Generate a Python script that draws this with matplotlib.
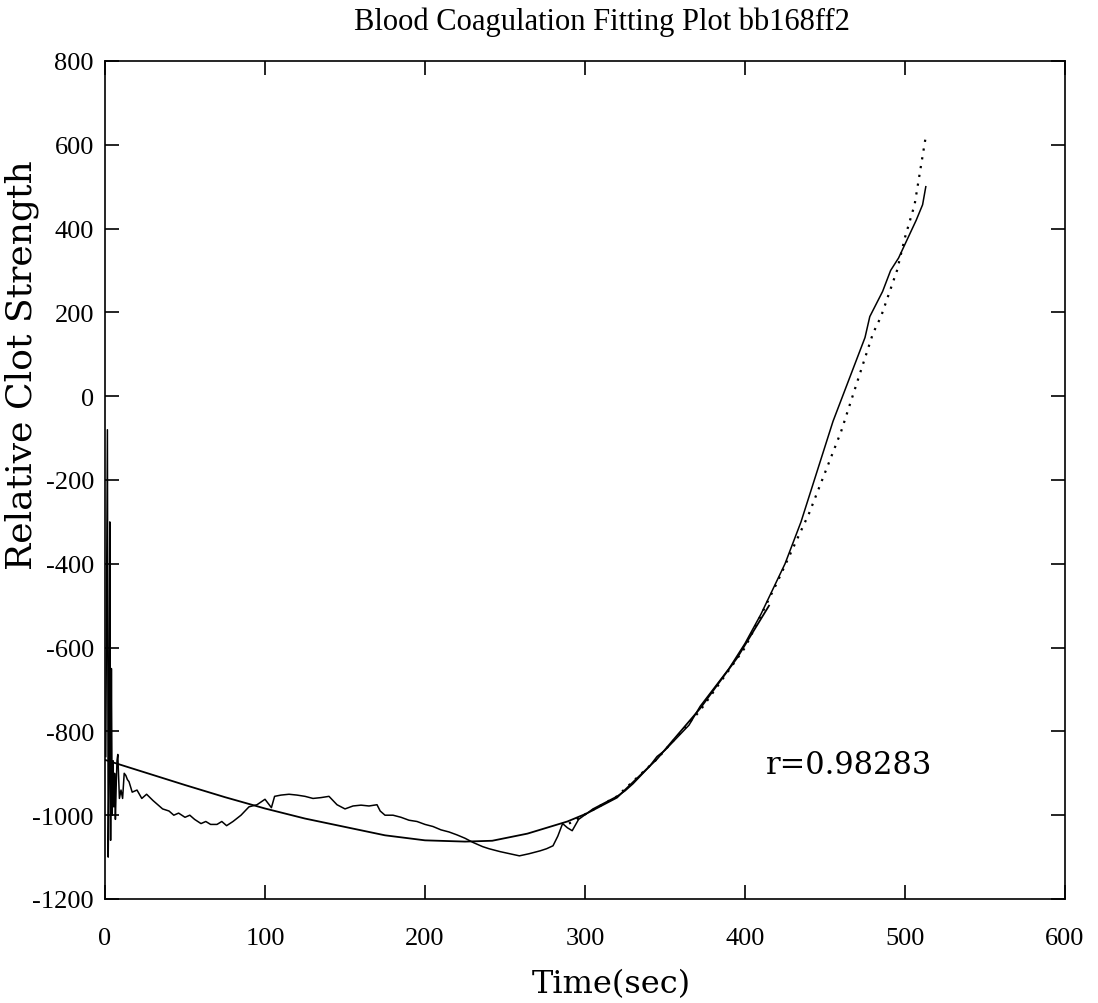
import numpy as np
import matplotlib.pyplot as plt

plt.rcParams['axes.unicode_minus'] = False

t_data = [0.5, 1.5, 2, 2.5, 3, 3.5, 4, 4.5, 5, 5.5, 6, 6.5, 7, 7.5, 8, 9, 10, 11, 12, 13, 14,
          15, 17, 20, 23, 26, 30, 33, 36, 40, 43, 46, 50, 53, 56, 60, 63, 66,
          70, 73, 76, 80, 85, 90, 95, 100, 104, 106, 110, 115, 120, 125,
          130, 135, 140, 145, 150, 155, 160, 165, 170, 172, 175, 180, 185, 190, 195,
          200, 205, 210, 215, 220, 225, 230, 236, 240, 247, 253, 259, 265, 272, 276, 280,
          283, 286, 289, 292, 296, 301, 305, 310, 315, 320, 325, 330, 335, 340, 345,
          350, 355, 360, 365, 372, 375, 380, 385, 390, 395, 400, 405, 410, 415, 420,
          425, 430, 435, 440, 445, 450, 455, 461, 465, 470, 475, 478, 482, 486, 491,
          496, 502, 507, 511, 513]
y_data = [-860, -80, -1100, -900, -300, -1060, -650, -1000, -870, -980, -900, -1010, -930, -870,
          -855, -960, -940, -960, -900, -905, -915,
          -920, -945, -940, -960, -950, -965, -975, -985, -990, -1000, -995, -1005, -1000,
          -1010, -1020, -1015, -1022,
          -1022, -1015, -1025, -1015, -1000, -980, -975, -962, -982, -955, -952, -950, -952,
          -955,
          -960, -958, -955, -975, -985, -978, -976, -978, -975, -990, -1000, -1000, -1005,
          -1012, -1015,
          -1022, -1027, -1035, -1040, -1047, -1055, -1065, -1075, -1080, -1087, -1092, -1097,
          -1092, -1085, -1080, -1073,
          -1050, -1020, -1030, -1037, -1010, -996, -985, -975, -965, -955, -942, -925, -905,
          -885, -860,
          -845, -825, -805, -785, -740, -725, -700, -675, -650, -620, -590, -555, -520, -480,
          -440, -400, -350, -300, -240, -180, -120, -60, 0, 40, 90, 140, 190, 220, 250, 300,
          330, 379, 420, 457, 500]

# smooth fit over the whole window (solid)
t_fit = [0, 25, 50, 75, 100, 125, 150, 175, 200, 225, 242, 264, 289, 301, 320, 345,
         372, 395, 415]
y_fit = [-868, -898, -928, -957, -984, -1008, -1028, -1048, -1060, -1063, -1061, -1044,
         -1015, -996, -958, -866, -745, -625, -500]

# second fit (dotted)
t_fit2 = [290, 300, 320, 345, 372, 400, 420, 440, 460, 480, 485, 495, 500, 506, 513]
y_fit2 = [-1020, -998, -955, -866, -750, -600, -445, -280, -85, 150, 190, 300, 379, 457, 620]

r_text = 'r=0.98283'

fig = plt.figure(figsize=(10.98, 10.04), dpi=100)
ax = fig.add_axes([105 / 1098, 1 - 900 / 1004, 960 / 1098, 838 / 1004])

ax.plot(t_data, y_data, color='black', linewidth=1.1)
ax.plot(t_fit, y_fit, color='black', linewidth=1.3)
ax.plot(t_fit2, y_fit2, color='black', linewidth=1.6, linestyle=(0, (1, 3)))

ax.set_xlim(0, 600)
ax.set_ylim(-1200, 800)
ax.set_xticks(np.arange(0, 601, 100))
ax.set_yticks(np.arange(-1200, 801, 200))
ax.tick_params(direction='in', length=10, width=1.2, top=True, right=True,
               labelsize=19)
ax.tick_params(axis='x', pad=20)
ax.tick_params(axis='y', pad=8)
for lab in ax.get_xticklabels() + ax.get_yticklabels():
    lab.set_fontfamily('Liberation Serif')
for s in ax.spines.values():
    s.set_linewidth(1.2)

fig.text(0.548, 1 - 22 / 1004, 'Blood Coagulation Fitting Plot bb168ff2', fontsize=22,
         family='Liberation Serif', ha='center', va='center')
fig.text(0.557, 1 - 985 / 1004, 'Time(sec)', fontsize=23, family='DejaVu Serif',
         ha='center', va='center')
fig.text(22 / 1098, 1 - 365 / 1004, 'Relative Clot Strength', fontsize=26,
         family='DejaVu Serif', rotation=90, ha='center', va='center')
ax.text(413, -880, r_text, fontsize=22, family='DejaVu Serif', va='center')

fig.savefig('out.png', dpi=100)
